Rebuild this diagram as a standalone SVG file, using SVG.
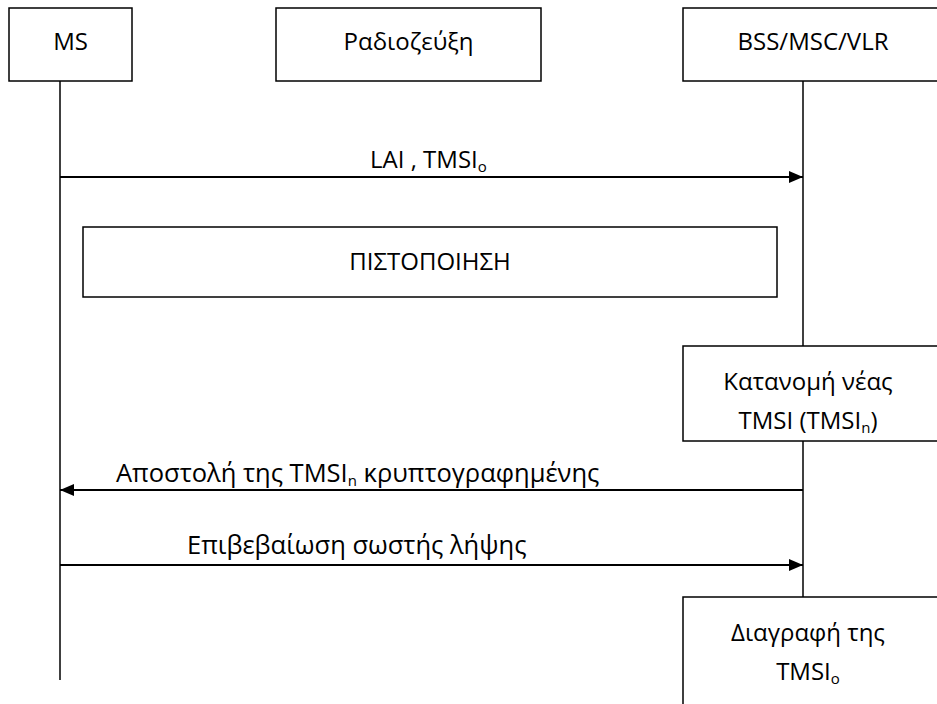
<svg xmlns="http://www.w3.org/2000/svg" width="937" height="704" viewBox="0 0 937 704">
  <style>
    .box { fill: #ffffff; stroke: #000000; stroke-width: 1.5; }
    .life { stroke: #000000; stroke-width: 1.5; fill: none; }
    .msg { stroke: #000000; stroke-width: 2; fill: none; }
    text { font-family: "Open Sans", "Noto Sans", "DejaVu Sans", sans-serif; font-size: 24px; fill: #000000; }
    .c { text-anchor: middle; }
    .lbl { font-size: 25.5px; }
    .sub { font-size: 15px; }
  </style>
  <defs>
    <marker id="arrow" viewBox="0 0 14 12" refX="14" refY="6" markerWidth="14" markerHeight="12" markerUnits="userSpaceOnUse" orient="auto">
      <path d="M0,0 L14,6 L0,12 Z" fill="#000000"/>
    </marker>
  </defs>

  <!-- lifelines -->
  <g id="lifelines">
    <line class="life" x1="60" y1="81" x2="60" y2="680"/>
    <line class="life" x1="803" y1="81" x2="803" y2="346"/>
    <line class="life" x1="803" y1="441" x2="803" y2="597"/>
  </g>

  <!-- participants -->
  <g id="ms">
    <rect class="box" x="9" y="8" width="123" height="73"/>
    <text class="c" x="70.5" y="50">MS</text>
  </g>
  <g id="radio">
    <rect class="box" x="276" y="8" width="265" height="73"/>
    <text class="c" x="408.5" y="50">Ραδιοζεύξη</text>
  </g>
  <g id="bss">
    <rect class="box" x="683" y="8" width="260" height="73"/>
    <text class="c" x="813" y="50">BSS/MSC/VLR</text>
  </g>

  <!-- messages -->
  <g id="connectors">
    <line class="msg" x1="60" y1="177" x2="803" y2="177" marker-end="url(#arrow)"/>
    <line class="msg" x1="803" y1="490" x2="60" y2="490" marker-end="url(#arrow)"/>
    <line class="msg" x1="60" y1="565" x2="803" y2="565" marker-end="url(#arrow)"/>
  </g>

  <g id="labels">
    <text x="370" y="168">LAI , TMSI<tspan class="sub" dy="4">o</tspan></text>
    <text class="lbl" x="116" y="482">Αποστολή της TMSI<tspan class="sub" dy="4">n</tspan><tspan dy="-4"> κρυπτογραφημένης</tspan></text>
    <text class="lbl" x="187" y="554">Επιβεβαίωση σωστής λήψης</text>
  </g>

  <!-- authentication block -->
  <g id="auth">
    <rect class="box" x="83" y="227" width="694" height="70"/>
    <text class="c" x="430" y="270">ΠΙΣΤΟΠΟΙΗΣΗ</text>
  </g>

  <!-- allocation of new TMSI -->
  <g id="alloc">
    <rect class="box" x="683" y="346" width="260" height="95"/>
    <text class="c" x="808" y="390">Κατανομή νέας</text>
    <text class="c" x="808" y="429">TMSI (TMSI<tspan class="sub" dy="4">n</tspan><tspan dy="-4">)</tspan></text>
  </g>

  <!-- deletion of old TMSI -->
  <g id="delete">
    <rect class="box" x="683" y="597" width="260" height="120"/>
    <text class="c" x="808" y="641">Διαγραφή της</text>
    <text class="c" x="808" y="680">TMSI<tspan class="sub" dy="4">o</tspan></text>
  </g>
</svg>
